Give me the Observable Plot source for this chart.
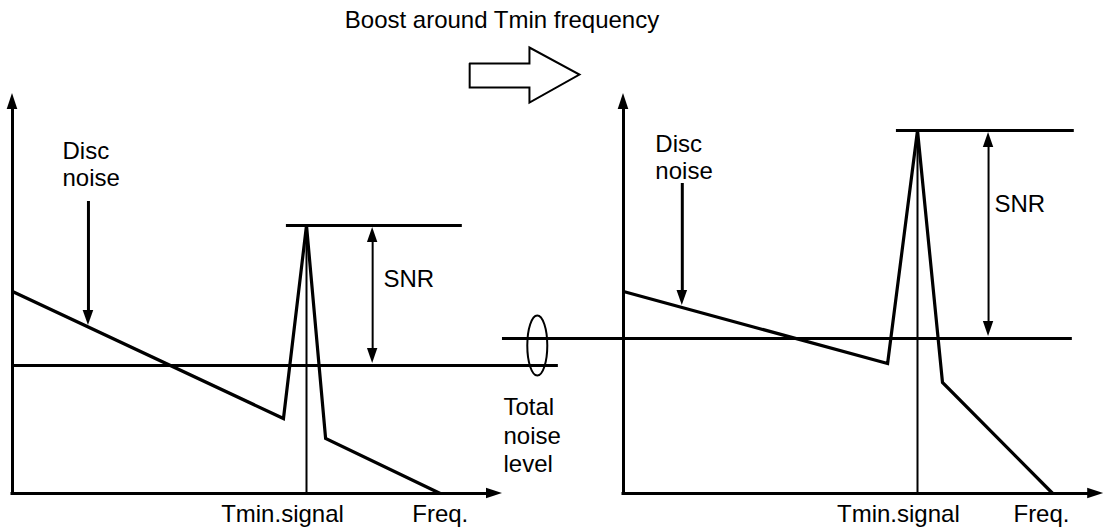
<!DOCTYPE html>
<html>
<head>
<meta charset="utf-8">
<script src="https://cdn.jsdelivr.net/npm/d3@7"></script>
<script src="https://cdn.jsdelivr.net/npm/@observablehq/plot@0.6"></script>
<style>
  html, body { margin: 0; padding: 0; background: #fff; }
  #title { width: 1004px; height: 40px; line-height: 40px; text-align: center;
           font-family: "Liberation Sans", Arial, sans-serif; font-size: 24px; color: #000; }
  #chart svg { display: block; }
</style>
</head>
<body>
<div id="title">Boost around Tmin frequency</div>
<div id="chart"></div>
<script>
// ---------- data (frequency units 0-100, level units 0-100) ----------
const panels = ["before", "after"];
const tminFreq = 60;                 // Tmin.signal frequency
const levelTop = 100;                // top of level axis
const axisEnd = [100, 98];           // end of frequency axis per panel

// spectrum: disc-noise slope + signal spike + roll-off
const freqBefore  = [0, 55.3, 60, 63.9, 87.3];
const levelBefore = [50.5, 18.75, 67, 13.75, 0];
const freqAfter   = [0, 53.9, 60, 65.1, 87.6];
const levelAfter  = [50.5, 32.5, 90.75, 27.75, 0];

const signalLevel = [67, 90.75];
const signalFrom  = [55.9, 55.7];
const signalTo    = [91.8, 92.0];
const noiseLevel  = [32, 38.75];
const noiseFrom   = [0, -24.7];
const noiseTo     = [111.4, 91.6];
const snrFreq     = [73.5, 74.5];
const discArrowFreq = [15.5, 12.0];
const discArrowFrom = [73, 77.5];
const discArrowTo   = [42, 47];

// labels
const discLabel = "Disc\nnoise";
const discLabelFreq = [10.2, 6.5];
const discLabelLevel = [88.5, 90.25];
const snrLabel = "SNR";
const snrLabelFreq = [75.7, 75.7];
const snrLabelLevel = [53.5, 72.4];
const tminLabel = "Tmin.signal";
const tminLabelFreq = [55.1, 56.1];
const freqLabel = "Freq.";
const freqLabelFreq = [87.3, 85.3];
const xLabelLevel = -5.1;
const totalLabel = "Total\nnoise\nlevel";
const totalLabelFreq = 100.2;
const totalLabelLevel = 24.5;
// ellipse marking both noise levels
const ellipseFreq = 107.1;
const ellipseLevel = 37;
// hollow "boost" arrow outline (left panel units)
const boostFreq  = [93.3, 105.5, 105.5, 115.7, 105.5, 105.5, 93.3, 93.3];
const boostLevel = [107.5, 107.5, 111.5, 104.75, 97.75, 101.5, 101.5, 107.5];

// ---------- layout / styling ----------
const xRange = [12, 502], yRange = [453, 53];
const pxPerFreq = (xRange[1] - xRange[0]) / 100;
const pxPerLevel = (yRange[0] - yRange[1]) / 100;
const panelShift = [0, 611];
const font = "Liberation Sans, Arial, sans-serif";
const fs = 24;

// filled triangular arrowhead drawn as an area (tip at f,l), sizes in px
function headMark(dir, f, l, lenPx, halfPx, dx) {
  if (dir === "up" || dir === "down") {
    const base = dir === "up" ? l - lenPx / pxPerLevel : l + lenPx / pxPerLevel;
    const hw = halfPx / pxPerFreq;
    const pts = [{x: f - hw, a: base, b: base}, {x: f, a: base, b: l}, {x: f + hw, a: base, b: base}];
    return Plot.areaY(pts, {x: "x", y1: "a", y2: "b", fill: "black", stroke: "none", dx});
  }
  const base = f - lenPx / pxPerFreq;
  const hh = halfPx / pxPerLevel;
  const pts = [{y: l - hh, a: base, b: base}, {y: l, a: base, b: f}, {y: l + hh, a: base, b: base}];
  return Plot.areaX(pts, {y: "y", x1: "a", x2: "b", fill: "black", stroke: "none", dx});
}

const ellipseSymbol = {
  draw(ctx) {
    const rx = 10, ry = 30, k = 0.5523;
    ctx.moveTo(rx, 0);
    ctx.bezierCurveTo(rx, ry * k, rx * k, ry, 0, ry);
    ctx.bezierCurveTo(-rx * k, ry, -rx, ry * k, -rx, 0);
    ctx.bezierCurveTo(-rx, -ry * k, -rx * k, -ry, 0, -ry);
    ctx.bezierCurveTo(rx * k, -ry, rx, -ry * k, rx, 0);
    ctx.closePath();
  }
};

const marks = [];
panels.forEach((name, p) => {
  const dx = panelShift[p];
  const fr = p === 0 ? freqBefore : freqAfter;
  const lv = p === 0 ? levelBefore : levelAfter;
  const spectrum = fr.map((f, i) => ({f, l: lv[i]}));
  marks.push(
    // axes
    Plot.ruleX([0], {y1: levelTop, y2: 0, insetTop: 13, stroke: "black", strokeWidth: 3, strokeLinecap: "square", dx}),
    Plot.ruleY([0], {x1: 0, x2: axisEnd[p], insetRight: 13, stroke: "black", strokeWidth: 3, strokeLinecap: "square", dx}),
    headMark("up", 0, levelTop, 16, 5.3, dx),
    headMark("right", axisEnd[p], 0, 16, 5.3, dx),
    // Tmin vertical
    Plot.ruleX([tminFreq], {y1: signalLevel[p], y2: 0, stroke: "black", strokeWidth: 2, dx}),
    // signal & noise levels
    Plot.ruleY([signalLevel[p]], {x1: signalFrom[p], x2: signalTo[p], stroke: "black", strokeWidth: 3, dx}),
    Plot.ruleY([noiseLevel[p]], {x1: noiseFrom[p], x2: noiseTo[p], stroke: "black", strokeWidth: 3, dx}),
    // spectrum
    Plot.line(spectrum, {x: "f", y: "l", stroke: "black", strokeWidth: 3.2, strokeLinejoin: "miter", strokeMiterlimit: 4, strokeLinecap: "butt", dx}),
    // SNR double arrow
    Plot.ruleX([snrFreq[p]], {y1: signalLevel[p], y2: noiseLevel[p], insetTop: 12, insetBottom: 12, stroke: "black", strokeWidth: 2, dx}),
    headMark("up", snrFreq[p], signalLevel[p] - 0.5, 15, 5.2, dx),
    headMark("down", snrFreq[p], noiseLevel[p] + 0.5, 15, 5.2, dx),
    // disc noise arrow
    Plot.ruleX([discArrowFreq[p]], {y1: discArrowFrom[p], y2: discArrowTo[p], insetBottom: 12, stroke: "black", strokeWidth: 3, dx}),
    headMark("down", discArrowFreq[p], discArrowTo[p], 15, 5.3, dx),
    // labels
    Plot.text([discLabel], {x: discLabelFreq[p], y: discLabelLevel[p], text: d => d, textAnchor: "start", lineAnchor: "top", lineHeight: 1.13, fontSize: fs, fontFamily: font, fill: "black", dx}),
    Plot.text([snrLabel], {x: snrLabelFreq[p], y: snrLabelLevel[p], text: d => d, textAnchor: "start", lineAnchor: "middle", fontSize: fs, fontFamily: font, fill: "black", dx}),
    Plot.text([tminLabel], {x: tminLabelFreq[p], y: xLabelLevel, text: d => d, textAnchor: "middle", lineAnchor: "middle", fontSize: fs, fontFamily: font, fill: "black", dx}),
    Plot.text([freqLabel], {x: freqLabelFreq[p], y: xLabelLevel, text: d => d, textAnchor: "middle", lineAnchor: "middle", fontSize: fs, fontFamily: font, fill: "black", dx})
  );
});

marks.push(
  Plot.text([totalLabel], {x: totalLabelFreq, y: totalLabelLevel, text: d => d, textAnchor: "start", lineAnchor: "top", lineHeight: 1.17, fontSize: fs, fontFamily: font, fill: "black"}),
  Plot.dot([{f: ellipseFreq, l: ellipseLevel}], {x: "f", y: "l", r: 10, symbol: ellipseSymbol, fill: "none", stroke: "black", strokeWidth: 2}),
  Plot.line(boostFreq.map((f, i) => ({f, l: boostLevel[i]})), {x: "f", y: "l", stroke: "black", fill: "white", strokeWidth: 2, strokeLinejoin: "miter", strokeMiterlimit: 10})
);

const chart = Plot.plot({
  width: 1104,
  height: 492,
  margin: 0,
  style: {background: "white", fontFamily: font},
  x: {domain: [0, 100], range: xRange, axis: null},
  y: {domain: [0, 100], range: yRange, axis: null},
  marks
});
document.getElementById("chart").appendChild(chart);
</script>
</body>
</html>
